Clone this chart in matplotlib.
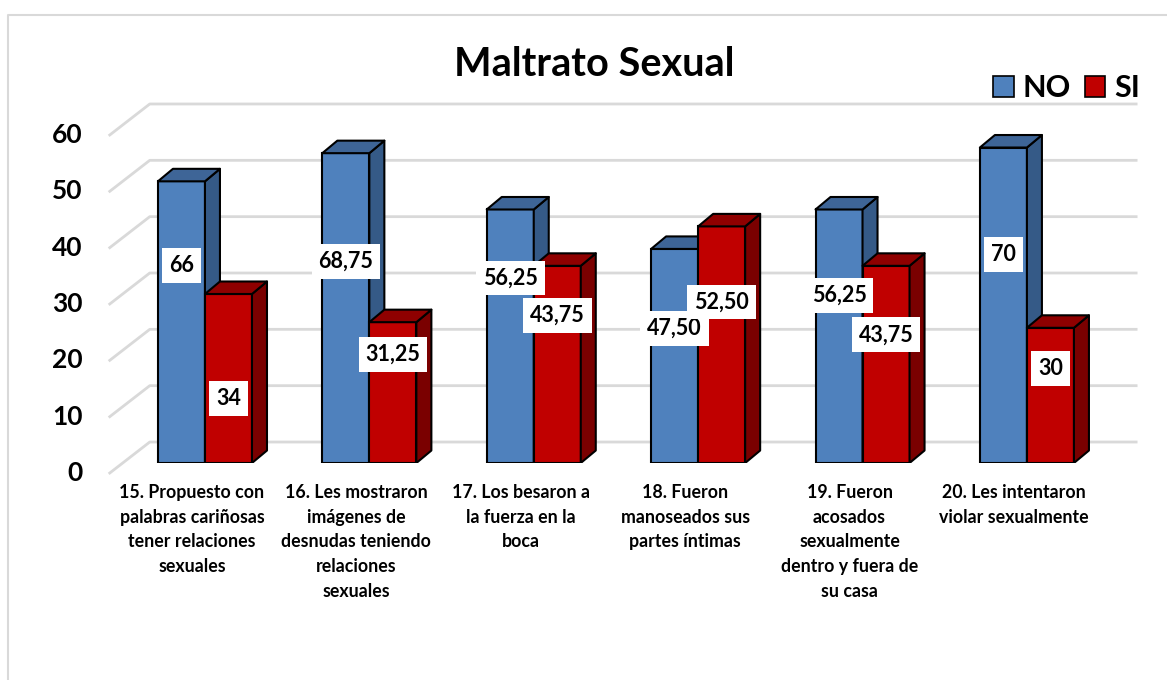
import matplotlib
matplotlib.use('Agg')
import matplotlib.pyplot as plt
from matplotlib.patches import Polygon, Patch
from matplotlib.lines import Line2D
from matplotlib.transforms import offset_copy

categories = [
    "15. Propuesto con\npalabras cariñosas\ntener relaciones\nsexuales",
    "16. Les mostraron\nimágenes de\ndesnudas teniendo\nrelaciones\nsexuales",
    "17. Los besaron a\nla fuerza en la\nboca",
    "18. Fueron\nmanoseados sus\npartes íntimas",
    "19. Fueron\nacosados\nsexualmente\ndentro y fuera de\nsu casa",
    "20. Les intentaron\nviolar sexualmente",
]
no_vals = [50, 55, 45, 38, 45, 56]
si_vals = [30, 25, 35, 42, 35, 24]
no_labels = ["66", "68,75", "56,25", "47,50", "56,25", "70"]
si_labels = ["34", "31,25", "43,75", "52,50", "43,75", "30"]
# where the white value boxes sit, as a share of the bar height
no_label_pos = [0.70, 0.65, 0.73, 0.63, 0.66, 0.66]
si_label_pos = [0.38, 0.77, 0.75, 0.68, 0.65, 0.70]
yticks = [0, 10, 20, 30, 40, 50, 60]

plt.rcParams['font.family'] = ['Lato', 'DejaVu Sans']

W, H = 1167, 680
fig = plt.figure(figsize=(W / 100, H / 100), dpi=100)
ax = fig.add_axes([0.1052, 0.3191, 0.8452, 0.4971])
ax.set_xlim(-0.5, 5.5)
ax.set_ylim(0, 60)
ax.axis('off')

# pixels per data unit, to fake the 3D depth
px_x = 0.8452 * W / 6
px_y = 0.4971 * H / 60
def dx(p):
    return p / px_x
def dy(p):
    return p / px_y

# chart area border (only top and left are in view)
fig.add_artist(Line2D([8 / W, 8 / W, 1.0], [0.0, 1 - 15 / H, 1 - 15 / H],
                      transform=fig.transFigure, color='#d9d9d9', lw=1.5))

# gridlines: side wall diagonal + back wall line, tick labels on front plane
for v in yticks:
    xf, yf = -0.5 + dx(-13), v + dy(-10)
    xb, yb = -0.5 + dx(27), v + dy(21)
    ax.plot([xf, xb, 5.5 + dx(27)], [yf, yb, yb], color='#d9d9d9', lw=2,
            clip_on=False, zorder=1)
    ax.text(xf - dx(27), yf, str(v), ha='right', va='center', fontsize=19,
            fontweight='bold')

blue = ('#4f81bd', '#355a87', '#3e6597')
red = ('#c00000', '#7a0000', '#8f0000')
w = 0.286
ddx, ddy = dx(15), dy(12.5)
z = 3
for i in range(len(categories)):
    for val, lab, pos, off, cols in [(no_vals[i], no_labels[i], no_label_pos[i], -w / 2, blue),
                                     (si_vals[i], si_labels[i], si_label_pos[i], w / 2, red)]:
        x0 = i + off - w / 2
        ax.bar(i + off, val, width=w, color=cols[0], edgecolor='black', lw=1.5, zorder=z)
        side = Polygon([(x0 + w, 0), (x0 + w + ddx, ddy), (x0 + w + ddx, val + ddy), (x0 + w, val)],
                       closed=True, fc=cols[1], ec='black', lw=1.5, zorder=z, joinstyle='round')
        top = Polygon([(x0, val), (x0 + ddx, val + ddy), (x0 + w + ddx, val + ddy), (x0 + w, val)],
                      closed=True, fc=cols[2], ec='black', lw=1.5, zorder=z, joinstyle='round')
        ax.add_patch(side)
        ax.add_patch(top)
        z += 1
        ax.text(i + off, val * pos, lab, ha='center', va='center', fontsize=15.5,
                fontweight='bold', zorder=60,
                bbox=dict(boxstyle='square,pad=0.32', fc='white', ec='none'))

# category labels, centred on the front plane
lab_tr = offset_copy(ax.transData, fig=fig, x=-13, y=-21, units='dots')
for i, c in enumerate(categories):
    ax.text(i, 0, c, transform=lab_tr, ha='center', va='top', fontsize=12.8,
            fontweight='bold', linespacing=1.55)

fig.text(594.5 / W, 1 - 76 / H, "Maltrato Sexual", ha='center', va='baseline',
         fontsize=28.5, fontweight='bold')

handles = [Patch(facecolor=blue[0], edgecolor='black', lw=1.2, label='NO'),
           Patch(facecolor=red[0], edgecolor='black', lw=1.2, label='SI')]
fig.legend(handles=handles, loc='upper right', bbox_to_anchor=(1140 / W, 1 - 74 / H),
           ncol=2, frameon=False, prop={'weight': 'bold', 'size': 22},
           handlelength=0.66, handleheight=0.66, handletextpad=0.3,
           columnspacing=0.45, borderaxespad=0, borderpad=0)

fig.savefig('out.png', dpi=100, facecolor='white')
